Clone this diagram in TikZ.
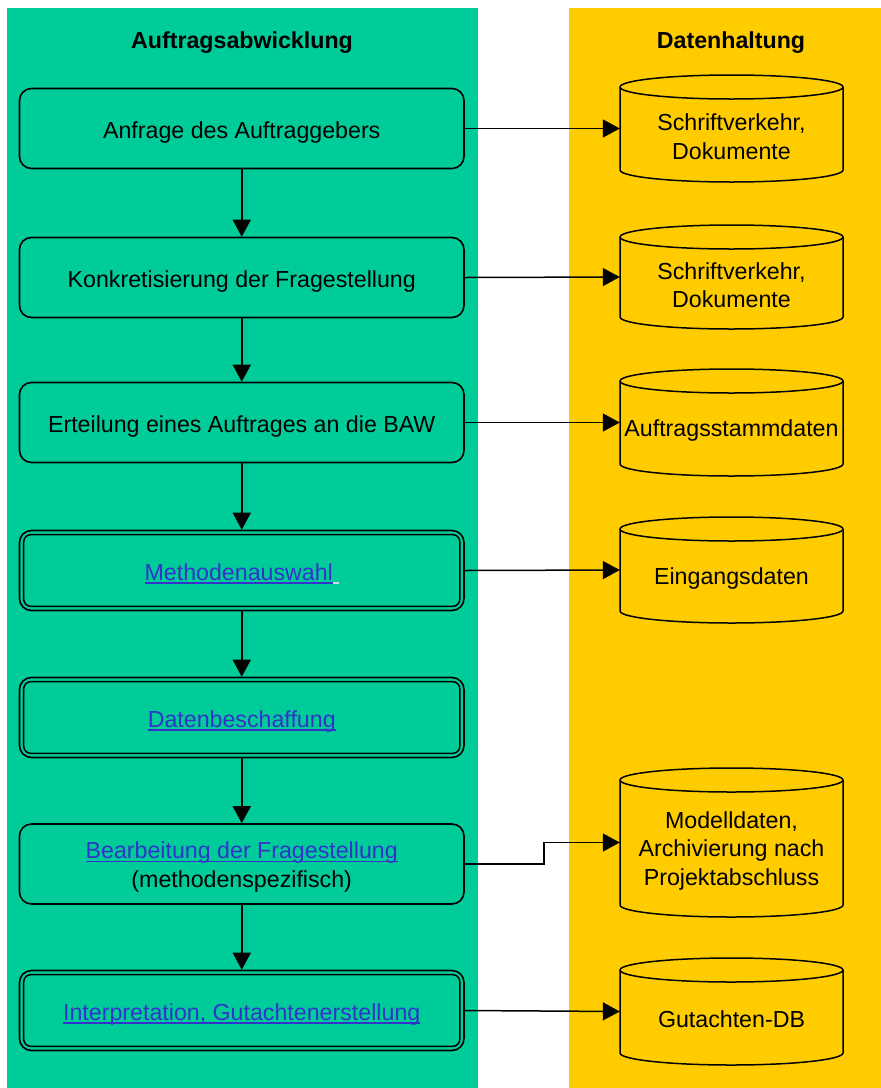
\documentclass[tikz,border=0pt]{standalone}
\usepackage{fontspec}
\setmainfont{Liberation Sans}
\usetikzlibrary{arrows.meta,calc}
\definecolor{bggreen}{RGB}{0,204,153}
\definecolor{bgyellow}{RGB}{255,204,0}
\definecolor{linkblue}{RGB}{51,51,204}
\definecolor{linkpale}{RGB}{205,220,240}
\newsavebox\lnkbox
\newcommand\lnk[1]{\textcolor{linkblue}{\sbox\lnkbox{#1}\rlap{\rule[-3.6pt]{\wd\lnkbox}{1.3pt}}\usebox\lnkbox}}
\newcommand\dbcyl[5]{%
  \node[cylbox, minimum height={#4pt-#3pt}] (#1) at (#2,{(#3+#4)/2}) {};
  \node[cyltext] (#1t) at (#2,{(#3+#4)/2+8}) {#5};
  \draw[cylline] ({#2-111.5},{#3+12}) -- ({#2-111.5},{#4-12})
     .. controls ({#2-111.5},{#4-5.37}) and ({#2-61.6},#4) .. (#2,#4)
     .. controls ({#2+61.6},#4) and ({#2+111.5},{#4-5.37}) .. ({#2+111.5},{#4-12})
     -- ({#2+111.5},{#3+12});
  \draw[cylline] (#2,{#3+12}) ellipse[x radius=111.5, y radius=12];
}
\begin{document}
\begin{tikzpicture}[x=1pt,y=-1pt,
  font=\fontsize{23.2}{28.5}\selectfont,
  proc/.style={draw, line width=1.6pt, rounded corners=12pt, minimum width=444.5pt,
    minimum height=80pt, align=center, inner sep=0pt, text height=19.5pt, text depth=0.5pt},
  inner/.style={line width=1.5pt, rounded corners=7pt},
  arr/.style={line width=1.5pt, -{Triangle[length=17pt,width=18pt]}},
  cylbox/.style={minimum width=223pt, inner sep=0pt, draw=none},
  cyltext/.style={align=center, inner sep=0pt},
  cylline/.style={line width=1.5pt},
  hdr/.style={font=\fontsize{23.2}{28}\selectfont\bfseries}]
\useasboundingbox (0,0) rectangle (881,1088);
\fill[white] (0,0) rectangle (881,1088);
\fill[bggreen] (7,8) rectangle (478,1088);
\fill[bgyellow] (569,8) rectangle (881,1088);

\node[hdr] (h1) at (242,43) {Auftragsabwicklung};
\node[hdr] (h2) at (731,43) {Datenhaltung};

\node[proc] (b1) at (241.75,128.5) {Anfrage des Auftraggebers};
\node[proc] (b2) at (241.75,277.5) {Konkretisierung der Fragestellung};
\node[proc] (b3) at (241.75,422.5) {Erteilung eines Auftrages an die BAW};
\node[proc] (b4) at (241.75,570.5) {\lnk{Methodenauswahl}\textcolor{linkpale}{\rule[-3.6pt]{6pt}{1.3pt}}};
\node[proc] (b5) at (241.75,717.5) {\lnk{Datenbeschaffung}};
\node[proc, text height=48pt, text depth=2pt] (b6) at (241.75,864) {\lnk{Bearbeitung der Fragestellung}\\(methodenspezifisch)};
\node[proc] (b7) at (241.75,1010.5) {\lnk{Interpretation, Gutachtenerstellung}};

\foreach \b in {b4,b5,b7}
  \draw[inner] ($(\b.north west)+(5,5)$) rectangle ($(\b.south east)+(-5,-5)$);

\dbcyl{c1}{731.5}{75}{182}{Schriftverkehr,\\Dokumente}
\dbcyl{c2}{731.5}{225}{329}{Schriftverkehr,\\Dokumente}
\dbcyl{c3}{731.5}{369}{476}{Auftragsstammdaten}
\dbcyl{c4}{731.5}{517}{623}{Eingangsdaten}
\dbcyl{c5}{731.5}{768}{917}{Modelldaten,\\Archivierung nach\\Projektabschluss}
\dbcyl{c6}{731.5}{958}{1065}{Gutachten-DB}

\draw[arr] (b1.south) -- (b2.north);
\draw[arr] (b2.south) -- (b3.north);
\draw[arr] (b3.south) -- (b4.north);
\draw[arr] (b4.south) -- (b5.north);
\draw[arr] (b5.south) -- (b6.north);
\draw[arr] (b6.south) -- (b7.north);

\draw[arr] (b1.east) -- (c1.west);
\draw[arr] (b2.east) -- (c2.west);
\draw[arr] (b3.east) -- (c3.west);
\draw[arr] (b4.east) -- (c4.west);
\draw[arr] (b6.east) -- ++(79,0) |- (c5.west);
\draw[arr] (b7.east) -- (c6.west);
\end{tikzpicture}
\end{document}
